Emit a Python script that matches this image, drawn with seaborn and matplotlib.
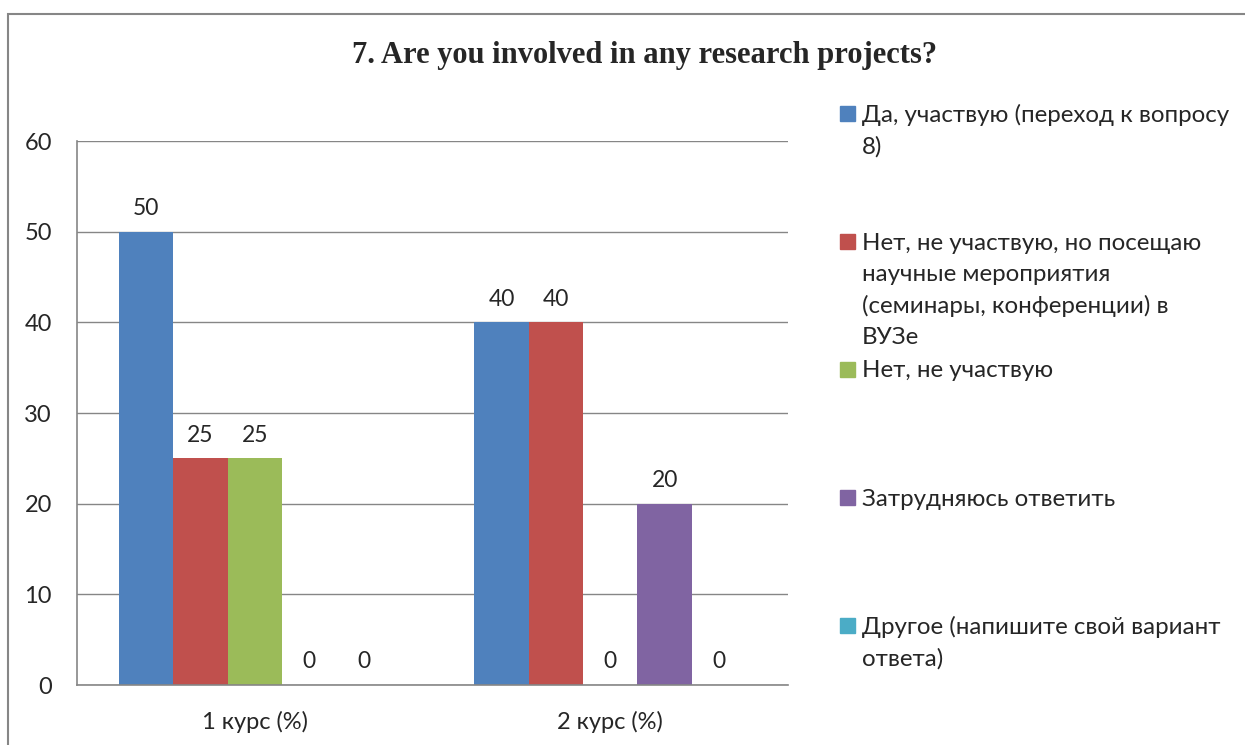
import matplotlib
matplotlib.use("Agg")
import matplotlib.pyplot as plt
import matplotlib.patches as mpatches
import seaborn as sns
import pandas as pd

courses = ["1 курс (%)", "2 курс (%)"]
answers = [
    "Да, участвую (переход к вопросу\n8)",
    "Нет, не участвую, но посещаю\nнаучные мероприятия\n(семинары, конференции) в\nВУЗе",
    "Нет, не участвую",
    "Затрудняюсь ответить",
    "Другое (напишите свой вариант\nответа)",
]
values_course1 = [50, 25, 25, 0, 0]
values_course2 = [40, 40, 0, 20, 0]
colors = ["#4F81BD", "#C0504D", "#9BBB59", "#8064A2", "#4BACC6"]
title = "7. Are you involved in any research projects?"

rows = []
for course, vals in zip(courses, [values_course1, values_course2]):
    for a, v in zip(answers, vals):
        rows.append({"course": course, "answer": a, "value": v})
df = pd.DataFrame(rows)

sns.set_style("white")
plt.rcParams["font.family"] = ["Lato", "DejaVu Sans"]

W, H = 1245, 745
fig = plt.figure(figsize=(W / 100, H / 100), dpi=100)
ax = fig.add_axes([77 / W, 1 - 685 / H, (788 - 77) / W, (685 - 141) / H])

sns.barplot(data=df, x="course", y="value", hue="answer", hue_order=answers,
            palette=colors, width=0.765, ax=ax, legend=False,
            saturation=1, edgecolor="none")

grid_c = "#868686"
ax.set_xlim(-0.5, 1.5)
ax.set_ylim(0, 60)
ax.set_yticks(range(0, 61, 10))
ax.yaxis.grid(True, color=grid_c, lw=1)
ax.set_axisbelow(True)
for s in ["top", "right"]:
    ax.spines[s].set_visible(False)
for s in ["left", "bottom"]:
    ax.spines[s].set_color(grid_c)
    ax.spines[s].set_linewidth(1.2)
ax.set_xlabel("")
ax.set_ylabel("")
ax.tick_params(axis="y", length=7, color=grid_c, width=1.2, pad=11, labelsize=17)
ax.tick_params(axis="x", which="major", length=0, pad=19, labelsize=17)
ax.set_xticks([-0.5, 0.5, 1.5], minor=True)
ax.tick_params(axis="x", which="minor", length=6, color=grid_c, width=1.2)

for cont in ax.containers:
    ax.bar_label(cont, fmt="%g", padding=9, fontsize=16.5)

fig.text(645 / W, 1 - 55 / H, title, ha="center", va="center",
         fontsize=22, fontweight="bold", family="Liberation Serif")

# legend drawn by hand to keep Excel's fixed entry spacing
for i, (lab, c) in enumerate(zip(answers, colors)):
    y0 = 115 + i * 128
    fig.patches.append(mpatches.Rectangle((840 / W, 1 - (y0 + 6) / H), 15 / W, 15 / H,
                                          transform=fig.transFigure, color=c))
    for j, line in enumerate(lab.split("\n")):
        fig.text(862 / W, 1 - (y0 + j * 31.5) / H, line, ha="left", va="center",
                 fontsize=17.4)

fig.patches.append(mpatches.Rectangle((8 / W, -0.1), 1.2, 1 - 14 / H + 0.1,
                                      transform=fig.transFigure, fill=False,
                                      edgecolor=grid_c, lw=1.5))

fig.savefig("out.png", dpi=100)
